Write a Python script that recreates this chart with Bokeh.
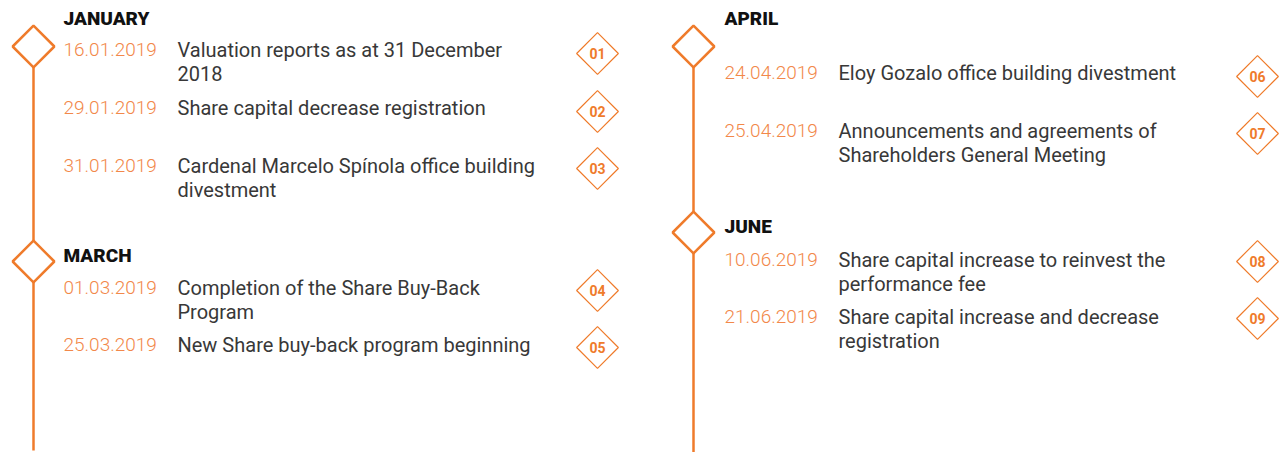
from bokeh.plotting import figure
from bokeh.models import Range1d
from bokeh.core.properties import value
from bokeh.embed import file_html
from bokeh.resources import INLINE

# ---- data ----
months = ["JANUARY", "MARCH", "APRIL", "JUNE"]
month_column = [0, 0, 1, 1]
dates = ["16.01.2019", "29.01.2019", "31.01.2019", "01.03.2019", "25.03.2019",
         "24.04.2019", "25.04.2019", "10.06.2019", "21.06.2019"]
descriptions = [
    "Valuation reports as at 31 December\n2018",
    "Share capital decrease registration",
    "Cardenal Marcelo Spínola office building\ndivestment",
    "Completion of the Share Buy-Back\nProgram",
    "New Share buy-back program beginning",
    "Eloy Gozalo office building divestment",
    "Announcements and agreements of\nShareholders General Meeting",
    "Share capital increase to reinvest the\nperformance fee",
    "Share capital increase and decrease\nregistration",
]
numbers = ["01", "02", "03", "04", "05", "06", "07", "08", "09"]
event_column = [0, 0, 0, 0, 0, 1, 1, 1, 1]

# ---- layout (pixels) ----
col_line_x = [33, 693]
col_date_x = [63, 724]
col_desc_x = [177, 838]
col_badge_x = [597, 1257]
month_label_y = [18, 255, 18, 226]
month_diamond_y = [46, 261, 46, 232]
event_y = [49, 107, 165, 287, 344, 72, 130, 259, 316]
badge_y = [53, 111, 168, 290, 347, 76, 133, 261, 318]
line_h = 24

ORANGE = "#EF7B2B"
DATE_C = "#F2884A"
TEXT_C = "#383838"
FONT = value("Roboto")

W, H = 1280, 452
p = figure(width=W, height=H, output_backend="svg", toolbar_location=None,
           x_range=Range1d(0, W), y_range=Range1d(H, 0),
           min_border=0)
p.axis.visible = False
p.grid.visible = False
p.outline_line_color = None
p.background_fill_color = "white"

# vertical timeline lines
p.segment(x0=col_line_x, y0=[46, 46], x1=col_line_x, y1=[450, 460],
          line_color=ORANGE, line_width=2.5)

# month diamonds
p.scatter(x=[col_line_x[c] for c in month_column], y=month_diamond_y,
          marker="square", angle=0.785398, size=29.5,
          fill_color="white", line_color=ORANGE, line_width=2.5)

# month labels
p.text(x=[col_date_x[c] for c in month_column], y=month_label_y, text=months,
       text_font=value("Roboto Black"), text_font_size="19px",
       text_color="#111111", text_baseline="middle", text_align="left")

# dates
p.text(x=[col_date_x[c] for c in event_column], y=event_y, text=dates,
       text_font=value("Roboto Light"), text_font_size="19px", text_color=DATE_C,
       text_baseline="middle", text_align="left")

# description lines
dx, dy, dt = [], [], []
for c, y0, d in zip(event_column, event_y, descriptions):
    for i, ln in enumerate(d.split("\n")):
        dx.append(col_desc_x[c]); dy.append(y0 + i * line_h); dt.append(ln)
p.text(x=dx, y=dy, text=dt, text_font=FONT, text_font_size="20px",
       text_color=TEXT_C, text_baseline="middle", text_align="left")

# number badges
bx = [col_badge_x[c] for c in event_column]
p.scatter(x=bx, y=badge_y, marker="square", angle=0.785398, size=29.5,
          fill_color="white", line_color=ORANGE, line_width=1.2)
p.text(x=bx, y=badge_y, text=numbers, text_font=FONT, text_font_style="bold",
       text_font_size="14px", text_color=ORANGE,
       text_baseline="middle", text_align="center")

open("out.html", "w").write(file_html(p, INLINE))
